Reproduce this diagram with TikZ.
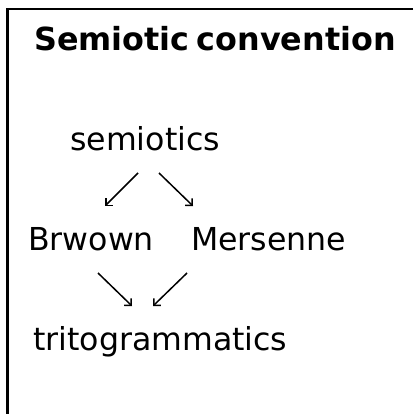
\documentclass[tikz,border=0pt]{standalone}
\usepackage{fontspec}
\setmainfont{DejaVu Sans}
\usetikzlibrary{arrows.meta}
\tikzset{
  label/.style={inner sep=0pt, anchor=base west, font=\fontsize{31.6}{40}\selectfont},
  heading/.style={inner sep=0pt, anchor=base west, font=\fontsize{31.8}{40}\selectfont\bfseries},
  link/.style={line width=1.5pt, -{Straight Barb[angle=90:7pt]}, line join=miter}
}
\begin{document}
\begin{tikzpicture}[x=1pt,y=-1pt]
  \useasboundingbox (0,0) rectangle (413,414);
  % frame (open to the right and bottom)
  \draw[line width=2.4pt] (413,9.3) -- (7.3,9.3) -- (7.3,414);
  % heading
  \node[heading] (title) at (34,51) {Semiotic\hspace{-0.12em} convention};
  % terms
  \node[label] (sem) at (70,150) {semiotics};
  \node[label] (brw) at (28,250) {Brwown};
  \node[label] (mer) at (191,250) {Mersenne};
  \node[label] (tri) at (33,350) {tritogrammatics};
  % arrow end points
  \coordinate (s1) at (138,173);
  \coordinate (e1) at (105,206);
  \coordinate (s2) at (159,173);
  \coordinate (e2) at (193,206);
  \coordinate (s3) at (98,273);
  \coordinate (e3) at (132,306);
  \coordinate (s4) at (187,273);
  \coordinate (e4) at (153,306);
  \draw[link] (s1) -- (e1);
  \draw[link] (s2) -- (e2);
  \draw[link] (s3) -- (e3);
  \draw[link] (s4) -- (e4);
\end{tikzpicture}
\end{document}
